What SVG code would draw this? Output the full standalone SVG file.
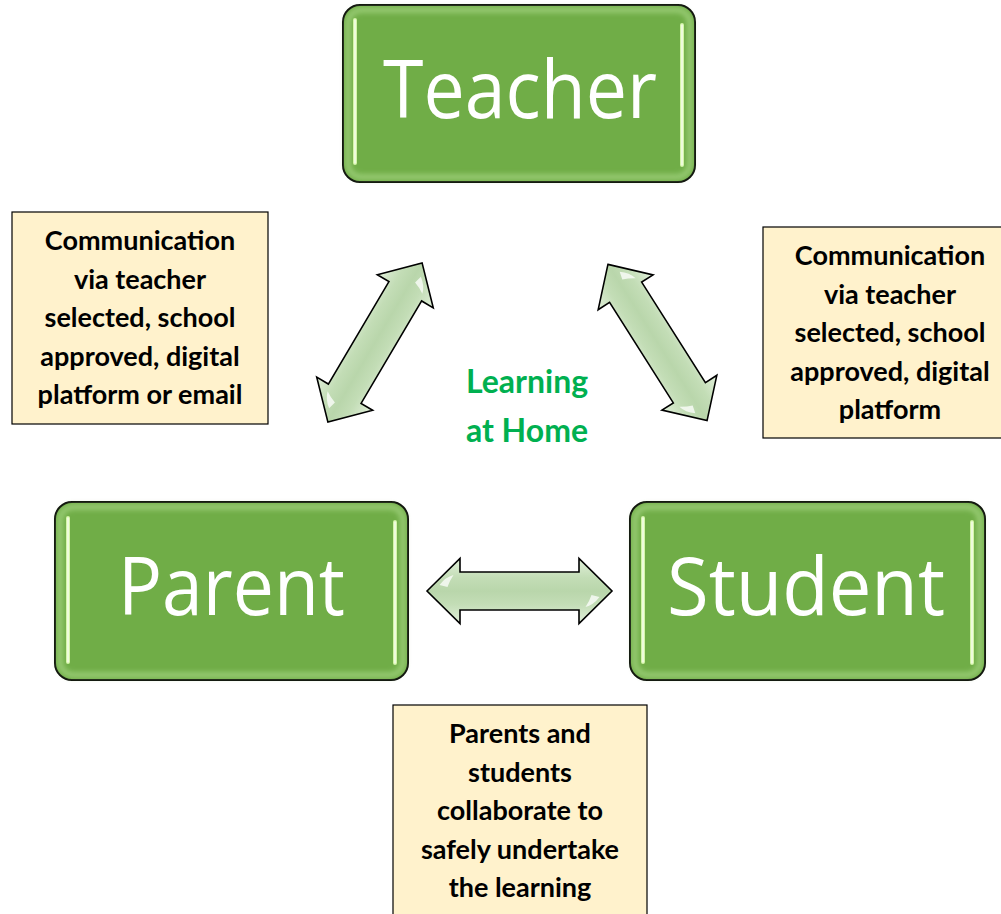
<svg xmlns="http://www.w3.org/2000/svg" width="1001" height="914" viewBox="0 0 1001 914">
<defs>
<style>
.node{fill:#70AD47;stroke:#000;stroke-width:2}
.glow{fill:none;stroke:#9fd07c;stroke-width:6;opacity:0.8}
.bar{stroke:#d4f5a8;stroke-width:4;stroke-linecap:round}
.barc{stroke:#ffffff;stroke-width:1.5;stroke-linecap:round;opacity:0.8}
.ntext{font-family:"Open Sans","Liberation Sans",sans-serif;font-size:80px;fill:#fff;text-anchor:middle}
.note{fill:#FFF2CC;stroke:#000;stroke-width:1.2}
.ttext{font-family:Lato,"Liberation Sans",sans-serif;font-weight:bold;font-size:27px;fill:#000;text-anchor:middle}
.green{font-family:Lato,"Liberation Sans",sans-serif;font-weight:bold;font-size:32px;fill:#00B050;text-anchor:middle}
.arr{fill:url(#ag);stroke:#000;stroke-width:1.6;stroke-linejoin:miter}
.hl{fill:#ffffff;opacity:0.75}
</style>
<linearGradient id="ag" gradientUnits="userSpaceOnUse" x1="0" y1="-33" x2="0" y2="33">
<stop offset="0" stop-color="#e2f0db"/>
<stop offset="0.3" stop-color="#c3ddb6"/>
<stop offset="0.5" stop-color="#b9d6ab"/>
<stop offset="0.7" stop-color="#c3ddb6"/>
<stop offset="1" stop-color="#e2f0db"/>
</linearGradient>
<filter id="blur" x="-10%" y="-10%" width="120%" height="120%"><feGaussianBlur stdDeviation="2.5"/></filter>
<path id="arrow" d="M-92.5,0 L-59.5,-32.5 L-59.5,-19 L59.5,-19 L59.5,-32.5 L92.5,0 L59.5,32.5 L59.5,19 L-59.5,19 L-59.5,32.5 Z"/>
</defs>
<rect width="1001" height="914" fill="#fff"/>

<g id="connectors">
<g transform="translate(375,342.5) rotate(-59.4)">
<use href="#arrow" class="arr"/>
<path class="hl" d="M-80,-6 Q-74,-14 -66,-16 Q-70,-10 -72,-4 Z"/>
<path class="hl" d="M80,6 Q74,14 66,16 Q70,10 72,4 Z"/>
</g>
<g transform="translate(657.5,342.5) rotate(57.6)">
<use href="#arrow" class="arr"/>
<path class="hl" d="M-80,-6 Q-74,-14 -66,-16 Q-70,-10 -72,-4 Z"/>
<path class="hl" d="M80,6 Q74,14 66,16 Q70,10 72,4 Z"/>
</g>
<g transform="translate(519.5,591)">
<use href="#arrow" class="arr"/>
<path class="hl" d="M-80,-6 Q-74,-14 -66,-16 Q-70,-10 -72,-4 Z"/>
<path class="hl" d="M80,6 Q74,14 66,16 Q70,10 72,4 Z"/>
</g>
</g>

<g id="teacher">
<rect class="node" x="343" y="5" width="352" height="177" rx="17"/>
<rect class="glow" x="348" y="10" width="342" height="167" rx="13" filter="url(#blur)"/>
<line class="bar" x1="355" y1="20" x2="355" y2="163"/>
<line class="barc" x1="355" y1="20" x2="355" y2="163"/>
<line class="bar" x1="682" y1="25" x2="682" y2="165"/>
<line class="barc" x1="682" y1="25" x2="682" y2="165"/>
<text class="ntext" x="520" y="118" textLength="274" lengthAdjust="spacingAndGlyphs">Teacher</text>
</g>

<g id="parent">
<rect class="node" x="55" y="502" width="353" height="178" rx="17"/>
<rect class="glow" x="60" y="507" width="343" height="168" rx="13" filter="url(#blur)"/>
<line class="bar" x1="68" y1="518" x2="68" y2="662"/>
<line class="barc" x1="68" y1="518" x2="68" y2="662"/>
<line class="bar" x1="395" y1="522" x2="395" y2="663"/>
<line class="barc" x1="395" y1="522" x2="395" y2="663"/>
<text class="ntext" x="231.5" y="615" textLength="227" lengthAdjust="spacingAndGlyphs">Parent</text>
</g>

<g id="student">
<rect class="node" x="630" y="502" width="355" height="178" rx="17"/>
<rect class="glow" x="635" y="507" width="345" height="168" rx="13" filter="url(#blur)"/>
<line class="bar" x1="643" y1="518" x2="643" y2="662"/>
<line class="barc" x1="643" y1="518" x2="643" y2="662"/>
<line class="bar" x1="972" y1="522" x2="972" y2="663"/>
<line class="barc" x1="972" y1="522" x2="972" y2="663"/>
<text class="ntext" x="806" y="615" textLength="278" lengthAdjust="spacingAndGlyphs">Student</text>
</g>

<g id="note-left">
<rect class="note" x="12" y="212" width="256" height="212"/>
<text class="ttext" x="140" y="250">Communication</text>
<text class="ttext" x="140" y="289">via teacher</text>
<text class="ttext" x="140" y="327">selected, school</text>
<text class="ttext" x="140" y="366">approved, digital</text>
<text class="ttext" x="140" y="404">platform or email</text>
</g>

<g id="note-right">
<rect class="note" x="763" y="227" width="250" height="211"/>
<text class="ttext" x="890" y="265">Communication</text>
<text class="ttext" x="890" y="304">via teacher</text>
<text class="ttext" x="890" y="342">selected, school</text>
<text class="ttext" x="890" y="381">approved, digital</text>
<text class="ttext" x="890" y="419">platform</text>
</g>

<g id="note-bottom">
<rect class="note" x="393" y="705" width="254" height="220"/>
<text class="ttext" x="520" y="743">Parents and</text>
<text class="ttext" x="520" y="782">students</text>
<text class="ttext" x="520" y="820">collaborate to</text>
<text class="ttext" x="520" y="859">safely undertake</text>
<text class="ttext" x="520" y="897">the learning</text>
</g>

<g id="center-label">
<text class="green" x="527" y="393">Learning</text>
<text class="green" x="527" y="442">at Home</text>
</g>
</svg>
